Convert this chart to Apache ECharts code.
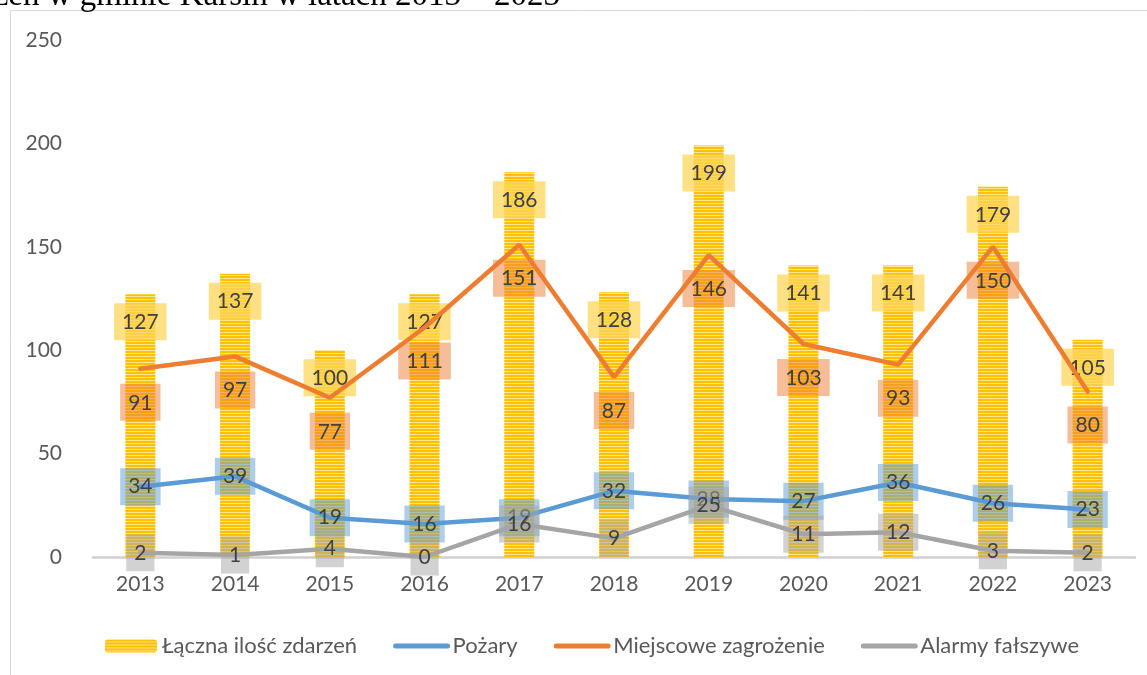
<!DOCTYPE html>
<html>
<head>
<meta charset="utf-8">
<script src="https://cdn.jsdelivr.net/npm/echarts@6/dist/echarts.min.js"></script>
<style>
html, body { margin: 0; padding: 0; background: #fff; }
#main { width: 1147px; height: 675px; }
</style>
</head>
<body>
<div id="main"></div>
<script>
var years = ['2013', '2014', '2015', '2016', '2017', '2018', '2019', '2020', '2021', '2022', '2023'];
var lacznie = [127, 137, 100, 127, 186, 128, 199, 141, 141, 179, 105];
var pozary = [34, 39, 19, 16, 19, 32, 28, 27, 36, 26, 23];
var miejscowe = [91, 97, 77, 111, 151, 87, 146, 103, 93, 150, 80];
var alarmy = [2, 1, 4, 0, 16, 9, 25, 11, 12, 3, 2];
var yTicks = [0, 50, 100, 150, 200, 250];

var FONT = 'Lato';

// striped yellow fill like the Excel pattern
function stripes() {
    var c = document.createElement('canvas');
    c.width = 4;
    c.height = 3;
    var ctx = c.getContext('2d');
    ctx.fillStyle = '#FFC000';
    ctx.fillRect(0, 0, 4, 2);
    ctx.fillStyle = '#FFE38F';
    ctx.fillRect(0, 2, 4, 1);
    return c;
}

function boxLabel(bg, pos, dist) {
    return {
        show: true,
        position: pos,
        distance: dist,
        fontFamily: FONT,
        fontSize: 21,
        color: '#404040',
        backgroundColor: bg,
        padding: [8, 8, 7, 8],
        lineHeight: 22
    };
}

function lineSeries(name, data, color, z, label) {
    return {
        name: name,
        type: 'line',
        data: data,
        symbol: 'circle',
        symbolSize: 0,
        z: z,
        lineStyle: { color: color, width: 4.5, cap: 'round' },
        itemStyle: { color: color },
        label: label,
        labelLayout: { hideOverlap: false }
    };
}

// legend entry for a line: thick rounded stroke, no marker
function lineLegend(name) {
    return { name: name, itemStyle: { opacity: 0 }, lineStyle: { width: 5, cap: 'round' } };
}

var charts = echarts.init(document.getElementById('main'));

var option = {
    animation: false,
    backgroundColor: '#fff',
    graphic: [
        {
            type: 'rect',
            shape: { x: 10.5, y: 10.5, width: 1200, height: 700 },
            style: { fill: 'none', stroke: '#D9D9D9', lineWidth: 1 },
            silent: true
        },
        {
            type: 'text',
            x: 560,
            y: 13,
            style: {
                text: 'Liczba zdarzeń w gminie Karsin w latach 2013 – 2023',
                font: '33px "Liberation Serif"',
                fill: '#000',
                textAlign: 'right',
                textVerticalAlign: 'bottom'
            }
        }
    ],
    grid: { left: 93, right: 12, top: 40, bottom: 118 },
    legend: {
        left: 100,
        top: 630,
        itemWidth: 52,
        itemHeight: 13,
        itemGap: 36,
        textStyle: { fontFamily: FONT, fontSize: 22, color: '#595959' },
        lineStyle: { width: 5, cap: 'round' },
        data: [
            'Łączna ilość zdarzeń',
            lineLegend('Pożary'),
            lineLegend('Miejscowe zagrożenie'),
            lineLegend('Alarmy fałszywe')
        ]
    },
    xAxis: {
        type: 'category',
        data: years,
        axisLine: { lineStyle: { color: '#D0D0D0', width: 2.5 } },
        axisTick: { show: false },
        axisLabel: { fontFamily: FONT, fontSize: 21, color: '#595959', margin: 17 }
    },
    yAxis: {
        type: 'value',
        min: yTicks[0],
        max: yTicks[yTicks.length - 1],
        interval: 50,
        splitLine: { show: false },
        axisLine: { show: false },
        axisLabel: { fontFamily: FONT, fontSize: 21, color: '#595959', margin: 31 }
    },
    series: [
        {
            name: 'Łączna ilość zdarzeń',
            type: 'bar',
            data: lacznie,
            barWidth: 30,
            z: 1,
            itemStyle: { color: { image: stripes(), repeat: 'repeat' } },
            label: boxLabel('rgba(255,214,90,0.75)', 'insideTop', 9)
        },
        lineSeries('Pożary', pozary, '#5B9BD5', 3, boxLabel('rgba(91,155,213,0.5)', 'inside', 0)),
        lineSeries('Miejscowe zagrożenie', miejscowe, '#ED7D31', 3, boxLabel('rgba(237,125,49,0.5)', 'bottom', 15)),
        lineSeries('Alarmy fałszywe', alarmy, '#A5A5A5', 4, boxLabel('rgba(165,165,165,0.5)', 'inside', 0))
    ]
};

charts.setOption(option);
</script>
</body>
</html>
